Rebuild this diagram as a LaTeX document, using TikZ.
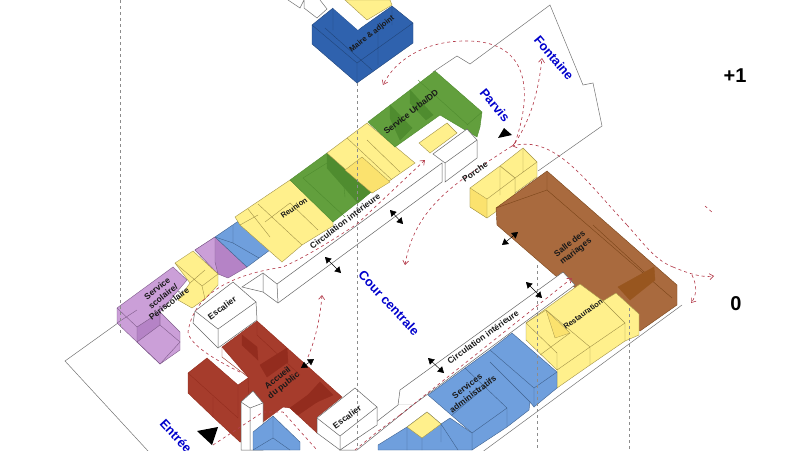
\documentclass[tikz,border=0pt]{standalone}
\usepackage{fontspec}
\setmainfont{Liberation Sans}
\usetikzlibrary{arrows.meta}
\definecolor{ylwC}{HTML}{FFF08C}
\definecolor{ylwD}{HTML}{FBE26E}
\definecolor{purC}{HTML}{CB9FD8}
\definecolor{purD}{HTML}{B583C6}
\definecolor{bluC}{HTML}{6F9FDD}
\definecolor{bluD}{HTML}{5C8CCB}
\definecolor{navC}{HTML}{2F62AE}
\definecolor{grnC}{HTML}{629F3D}
\definecolor{grnD}{HTML}{4F8C2F}
\definecolor{redC}{HTML}{A63C2C}
\definecolor{redD}{HTML}{932C1E}
\definecolor{brnC}{HTML}{A96A3E}
\definecolor{brnD}{HTML}{98561F}
\definecolor{pathC}{HTML}{B5404F}
\tikzset{
    site/.style={draw=black!55, line width=0.5pt},
    wall/.style={draw=black!60, fill=white, line width=0.5pt},
    ylw/.style={fill=ylwC, draw=ylwD!65!black, line width=0.4pt},
    ylwd/.style={fill=ylwD, draw=ylwD!65!black, line width=0.3pt},
    pur/.style={fill=purC, draw=purD!70!black, line width=0.4pt},
    purd/.style={fill=purD, draw=purD!70!black, line width=0.4pt},
    blu/.style={fill=bluC, draw=bluD!70!black, line width=0.4pt},
    nav/.style={fill=navC, draw=navC!70!black, line width=0.4pt},
    grn/.style={fill=grnC, draw=grnD, line width=0.4pt},
    grnd/.style={fill=grnD, draw=grnD, line width=0.4pt},
    rouge/.style={fill=redC, draw=redD, line width=0.4pt},
    rouged/.style={fill=redD, draw=redD, line width=0.4pt},
    brn/.style={fill=brnC, draw=brnD!80!black, line width=0.4pt},
    brnd/.style={fill=brnD, draw=brnD, line width=0.4pt},
    level/.style={draw=black!45, dashed, line width=0.5pt},
    route/.style={draw=pathC, dashed, line width=0.65pt},
    routeend/.style={route, -{Straight Barb[length=4pt,width=6pt]}},
    door/.style={draw=black, line width=0.5pt, {Triangle[length=6pt,width=7pt]}-{Triangle[length=6pt,width=7pt]}},
    place/.style={font=\bfseries\fontsize{12.8}{14}\selectfont, text=blue!80!black, inner sep=0pt},
    room/.style={font=\bfseries\fontsize{8.5}{9.6}\selectfont, text=black!90, align=center, inner sep=0pt},
    roomsmall/.style={room, font=\bfseries\fontsize{7.6}{9}\selectfont},
    floorname/.style={font=\bfseries\fontsize{20}{22}\selectfont, inner sep=0pt}
}
\begin{document}
\begin{tikzpicture}[x=1pt,y=-1pt]
\useasboundingbox (0,0) rectangle (800,450);
\clip (0,0) rectangle (800,450);
% site outline
\draw[site] (118,323) -- (65,361) -- (160,464);
\draw[site] (433,72) -- (457,56) -- (470,64) -- (550,5) -- (583,85) -- (593,83) -- (602,126) -- (538,171);
\draw[site] (682,305) -- (466,464);
% upper floor
\draw[site] (288,0) -- (300,8) -- (304,0) (304,0) -- (304,8) -- (317,18) -- (327,9) -- (320,0);
\draw[nav] (312,25) -- (333,8) -- (358,30) -- (392,6) -- (413,23) -- (413,43) -- (357,83) -- (312,44) -- cycle;
\draw[nav, fill=none] (312,25) -- (357,63) -- (413,23) (357,63) -- (357,83) (333,8) -- (333,30) (378,23) -- (378,65) (325,28) -- (372,70) (392,6) -- (392,25);
\draw[wall, draw=none] (333,8) -- (358,30) -- (367,20) -- (345,0) -- (328,0) -- cycle;
\draw[ylw] (345,0) -- (367,20) -- (392,5) -- (390,0) -- cycle;
% upper circulation
\draw[wall] (242,287) -- (263,273) -- (277,284) -- (442,163) -- (442,182) -- (278,303) -- (263,292) -- cycle;
\draw[wall] (277,284) -- (278,303) (263,273) -- (263,292);
% service scolaire
\draw[purd] (195,250) -- (215,237) -- (247,267) -- (228,278) -- (218,274) -- cycle;
\draw[pur] (195,250) -- (215,237) -- (215,262) -- (218,274) -- cycle;
\draw[blu] (215,237) -- (240,220) -- (270,250) -- (247,267) -- cycle;
\draw[blu, fill=none] (233,225) -- (233,243) -- (259,258) (215,237) -- (233,243);
\draw[ylw] (175,263) -- (193,251) -- (218,274) -- (218,285) -- (205,299) -- (192,308) -- (178,300) -- (190,283) -- cycle;
\draw[ylw, fill=none] (175,263) -- (202,286) -- (218,274) (202,286) -- (205,299) (190,283) -- (205,270);
\draw[pur] (117,308) -- (173,267) -- (187,280) -- (160,312) -- (180,332) -- (180,350) -- (160,364) -- (117,323) -- cycle;
\draw[purd] (137,327) -- (160,312) -- (160,325) -- (137,342) -- cycle;
\draw[pur, fill=none] (137,342) -- (160,364) (160,325) -- (180,342) -- (160,364) (117,308) -- (137,327) (160,312) -- (160,325) (117,323) -- (137,310);
% reunion and friends
\draw[ylw] (235,217) -- (290,180) -- (333,220) -- (333,226) -- (302,245) -- (282,262) -- (240,225) -- cycle;
\draw[ylw, fill=none] (258,204) -- (302,245) (265,222) -- (290,203) -- (318,230) (240,225) -- (258,215) (248,209) -- (270,237);
\draw[grn] (290,180) -- (327,153) -- (371,192) -- (333,222) -- cycle;
\draw[grnd] (327,153) -- (371,192) -- (358,203) -- (327,168) -- cycle;
\draw[grn, fill=none] (303,178) -- (327,163) (303,178) -- (345,217) (343,177) -- (345,197);
\draw[ylw] (327,153) -- (367,123) -- (415,163) -- (372,193) -- cycle;
\draw[ylwd] (345,170) -- (362,157) -- (390,182) -- (372,193) -- cycle;
\draw[ylw, fill=none] (347,138) -- (392,180) (367,140) -- (400,172);
% service urba
\draw[grn] (368,122) -- (435,71) -- (482,112) -- (480,127) -- (477,137) -- (440,115) -- (395,147) -- cycle;
\draw[grnd] (390,105) -- (412,128) -- (400,140) -- (390,118) -- cycle;
\draw[grnd] (410,90) -- (433,115) -- (426,120) -- (410,103) -- cycle;
\draw[grn, fill=none] (418,80) -- (468,125) (482,112) -- (467,125);
% porche
\draw[ylw] (419,143) -- (447,123) -- (457,133) -- (430,153) -- cycle;
\draw[wall] (433,154) -- (467,129) -- (477,140) -- (477,158) -- (445,182) -- (445,163) -- cycle;
\draw[wall] (445,163) -- (477,140);
% yellow pair
\draw[ylw] (500,166) -- (523,148) -- (537,162) -- (537,177) -- (515,193) -- (515,178) -- cycle;
\draw[ylw] (470,188) -- (500,166) -- (515,178) -- (515,198) -- (487,218) -- (470,207) -- cycle;
\draw[ylwd] (470,188) -- (487,199) -- (487,218) -- (470,207) -- cycle;
\draw[ylw, fill=none] (487,199) -- (515,178) (500,166) -- (500,195) (523,148) -- (523,172) (515,178) -- (537,162);
% salle des mariages
\draw[brn] (496,208) -- (547,171) -- (677,285) -- (677,305) -- (640,331) -- (600,302) -- (557,277) -- (497,225) -- cycle;
\draw[brn, fill=none] (547,171) -- (547,190) -- (672,298) (496,208) -- (547,190) (593,225) -- (653,280);
\draw[brnd] (618,287) -- (654,267) -- (655,280) -- (630,300) -- cycle;
% lower circulation
\draw[wall] (400,390) -- (563,272) -- (575,285) -- (413,405) -- (398,405) -- cycle;
\draw[wall] (413,405) -- (357,450) -- (340,450) -- (398,405);
% restauration
\draw[ylw] (526,323) -- (580,284) -- (603,301) -- (616,293) -- (639,314) -- (639,335) -- (625,341) -- (590,365) -- (557,388) -- (557,370) -- (526,340) -- cycle;
\draw[ylwd] (546,310) -- (570,333) -- (555,338) -- cycle;
\draw[ylw, fill=none] (546,310) -- (590,347) -- (590,365) (590,347) -- (625,323) -- (603,301) (625,323) -- (625,341) (526,323) -- (557,353) -- (557,370) (540,355) -- (570,333) (557,370) -- (590,347) (526,323) -- (546,310);
% services administratifs
\draw[blu] (428,395) -- (490,350) -- (512,333) -- (557,372) -- (557,388) -- (534,407) -- (530,402) -- (529,410) -- (507,427) -- (472,450) -- (472,433) -- cycle;
\draw[blu, fill=none] (472,433) -- (507,408) -- (507,427) (507,408) -- (465,368) (490,350) -- (534,388) -- (534,407) (534,388) -- (557,372) (490,362) -- (530,402) (452,415) -- (490,383);
\draw[blu] (378,450) -- (378,445) -- (407,427) -- (427,412) -- (441,424) -- (450,418) -- (472,433) -- (472,450) -- cycle;
\draw[ylw] (407,427) -- (427,412) -- (441,424) -- (422,438) -- cycle;
\draw[blu, fill=none] (422,438) -- (422,450) (441,424) -- (458,450) (407,427) -- (407,450) (441,424) -- (441,442);
% accueil
\draw[rouge] (222,347) -- (257,321) -- (342,397) -- (317,417) -- (317,433) -- (290,408) -- (283,407) -- (263,422) -- (248,420) -- (248,377) -- cycle;
\draw[rouged] (242,335) -- (257,347) -- (258,360) -- (242,345) -- cycle;
\draw[rouged] (260,365) -- (287,348) -- (288,362) -- (267,377) -- cycle;
\draw[rouged] (290,408) -- (308,395) -- (317,402) -- (298,415) -- cycle;
\draw[rouged] (308,395) -- (320,382) -- (333,395) -- (317,402) -- cycle;
\draw[rouge, fill=none] (222,347) -- (222,357) -- (248,377) (257,321) -- (257,335) -- (300,375);
\draw[rouge] (188,373) -- (207,358) -- (238,385) -- (248,378) -- (250,442) -- (240,442) -- (213,417) -- (188,393) -- cycle;
\draw[rouge, fill=none] (188,373) -- (238,418) -- (238,385) (213,397) -- (213,417);
% pillar and stairs
\draw[wall] (241,402) -- (253,391) -- (263,403) -- (263,450) -- (241,450) -- cycle;
\draw[wall] (241,402) -- (250,408) -- (263,403) (250,408) -- (250,450);
\draw[blu] (253,432) -- (273,416) -- (300,442) -- (300,450) -- (253,450) -- cycle;
\draw[blu, fill=none] (273,416) -- (273,438) -- (253,450) (273,438) -- (290,450);
\draw[wall] (193,323) -- (195,311) -- (233,282) -- (256,302) -- (257,320) -- (218,348) -- cycle;
\draw[wall] (195,311) -- (218,329) -- (256,302) (218,329) -- (218,348);
\draw[wall] (317,418) -- (355,388) -- (377,407) -- (377,425) -- (340,450) -- (317,433) -- cycle;
\draw[wall] (317,418) -- (340,436) -- (377,407) (340,436) -- (340,450);
% levels
\draw[level] (120,0) -- (120,333);
\draw[level] (357,83) -- (357,450);
\draw[level] (537,265) -- (537,450);
\draw[level] (629,308) -- (629,450);
% routes
\draw[routeend] (515,143) .. controls (535,85) and (525,40) .. (465,41) .. controls (425,41) and (395,60) .. (383,85);
\draw[routeend] (515,143) .. controls (530,120) and (538,95) .. (542,58);
\draw[routeend] (627,225) .. controls (585,180) and (555,135) .. (512,146);
\draw[route] (627,225) .. controls (645,245) and (655,260) .. (673,267);
\draw[routeend] (673,267) .. controls (685,272) and (700,278) .. (714,276);
\draw[routeend] (692,275) .. controls (697,285) and (697,295) .. (691,303);
\draw[route] (705,206) -- (713,213);
\draw[routeend] (512,146) .. controls (460,180) and (415,205) .. (405,265);
\draw[route, {Straight Barb[length=4pt,width=6pt]}-] (425,160) -- (357,224) .. controls (330,242) and (305,257) .. (283,267) .. controls (250,272) and (195,285) .. (188,332) .. controls (190,345) and (215,360) .. (242,373);
\draw[routeend] (308,357) .. controls (315,340) and (320,320) .. (322,295);
\draw[routeend] (400,415) -- (572,278);
\draw[route] (400,415) -- (377,432) -- (355,450);
\draw[route] (213,445) -- (263,412) -- (283,412) -- (317,450);
% doors
\draw[door] (325,257) -- (341,273);
\draw[door] (390,210) -- (403,224);
\draw[door] (502,245) -- (518,232);
\draw[door] (526,282) -- (542,298);
\draw[door] (428,358) -- (444,373);
\draw[door] (301,368) -- (314,359);
\fill (197,431) -- (218,427) -- (212,445) -- cycle;
\fill (498,138) -- (504,128) -- (512,135) -- cycle;
% labels
\node[place, rotate=-50] at (495,105) {Parvis};
\node[place, rotate=-50] at (554,58) {Fontaine};
\node[place, rotate=-47] at (389,303) {Cour centrale};
\node[place, rotate=-47] at (176,436) {Entrée};
\node[floorname] at (735,76) {+1};
\node[floorname] at (736,304) {0};
\node[roomsmall, rotate=38] at (372,34) {Maire \& adjoint};
\node[room, rotate=38] at (411,112) {Service Urba/DD};
\node[roomsmall, rotate=35] at (294,208) {Reunion};
\node[room, rotate=37] at (345,221) {Circulation intérieure};
\node[room, rotate=35] at (475,172) {Porche};
\node[room, rotate=38] at (573,248) {Salle des\\mariages};
\node[roomsmall, rotate=36] at (583,314) {Restauration};
\node[room, rotate=36] at (483,337) {Circulation intérieure};
\node[room, rotate=37] at (470,390) {Services\\administratifs};
\node[room, rotate=36] at (222,308) {Escalier};
\node[room, rotate=36] at (347,417) {Escalier};
\node[room, rotate=38] at (281,382) {Accueil\\du public};
\node[room, rotate=38] at (163,296) {Service\\scolaire/\\Périscolaire};
\end{tikzpicture}
\end{document}
